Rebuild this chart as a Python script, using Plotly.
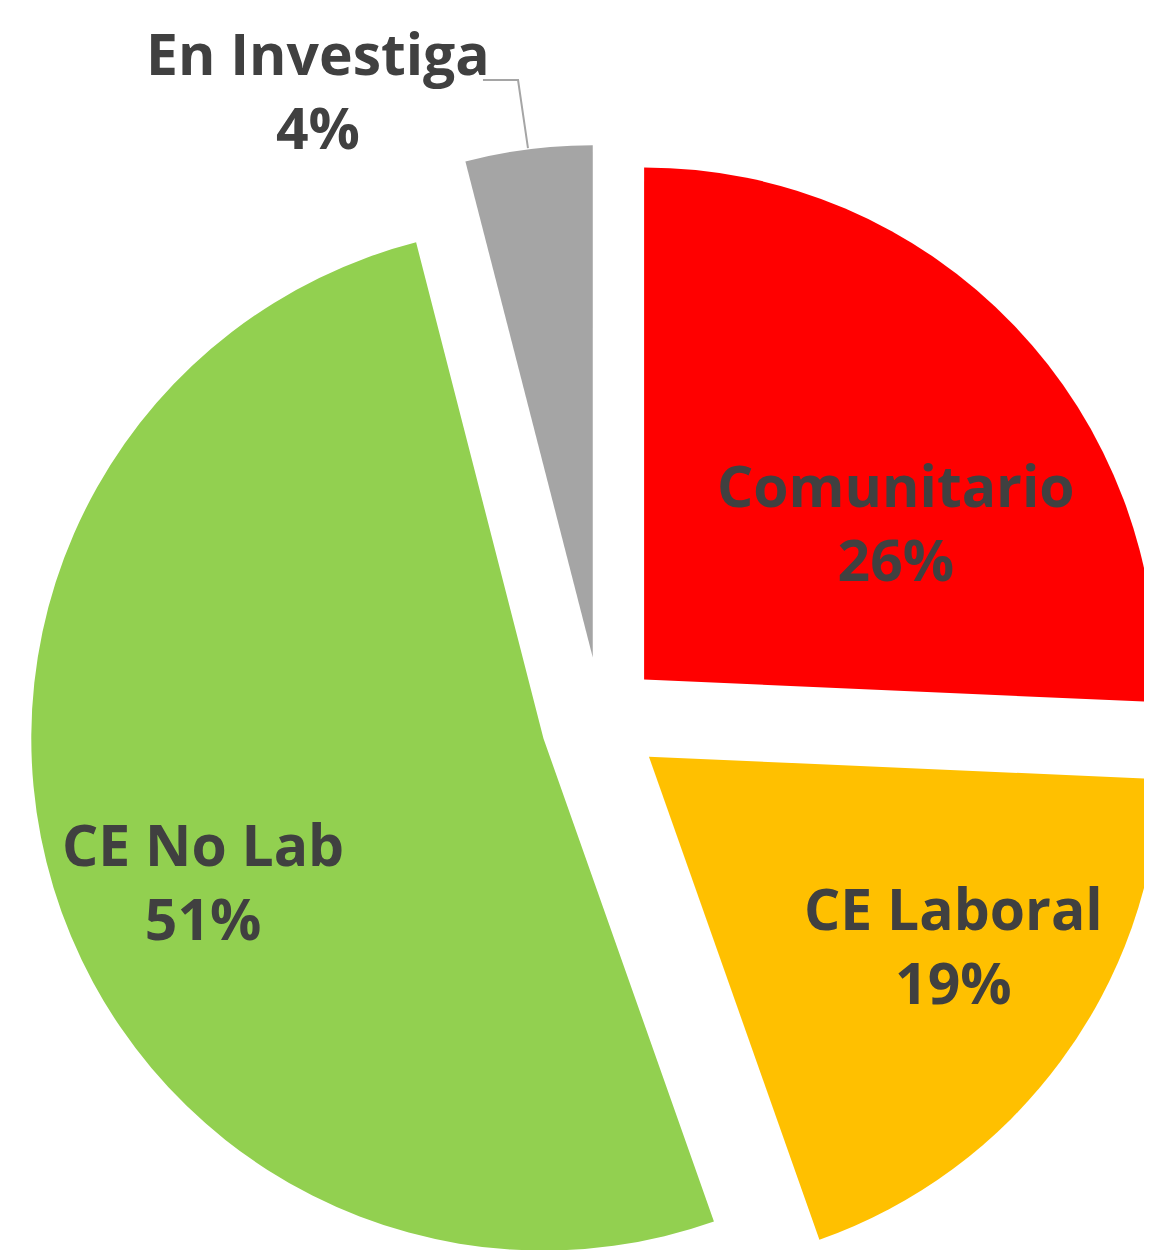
import plotly.graph_objects as go

# slices, clockwise from 12 o'clock
labels = ["Comunitario", "CE Laboral", "CE No Lab", "En Investiga"]
values = [25.7, 18.9, 51.4, 4.0]
colors = ["#FF0000", "#FFC000", "#92D050", "#A5A5A5"]
pulls = [0.117, 0.117, 0.117, 0.125]

# where each data label sits (paper coords), like the Excel layout
label_pos = [(0.7596, 0.6399), (0.8092, 0.3426), (0.1668, 0.3875), (0.2652, 0.9428)]

font = dict(family="Open Sans", size=57, color="#404040", weight="bold")

fig = go.Figure()
fig.add_trace(go.Pie(
    labels=labels,
    values=values,
    sort=False,
    direction="clockwise",
    rotation=0,
    pull=pulls,
    marker=dict(colors=colors, line=dict(width=0)),
    textinfo="none",
    domain=dict(x=[0.0142, 1], y=[0, 1]),
    showlegend=False,
    hoverinfo="skip",
))

total = sum(values)
for lab, val, (x, y) in zip(labels, values, label_pos):
    fig.add_annotation(
        x=x, y=y, xref="paper", yref="paper",
        xanchor="center", yanchor="middle",
        text=f"{lab}<br>{val / total:.0%}",
        showarrow=False, font=font, align="center",
    )

# elbow leader line for the grey slice
fig.add_shape(
    type="path", xref="paper", yref="paper",
    path="M 0.4063 0.9495 L 0.4363 0.9495 L 0.4448 0.9018",
    line=dict(color="#A5A5A5", width=2),
)

fig.update_layout(
    width=1169,
    height=1426,
    margin=dict(l=0, r=0, t=0, b=0),
    paper_bgcolor="white",
    plot_bgcolor="white",
)

fig.write_html("out.html")
